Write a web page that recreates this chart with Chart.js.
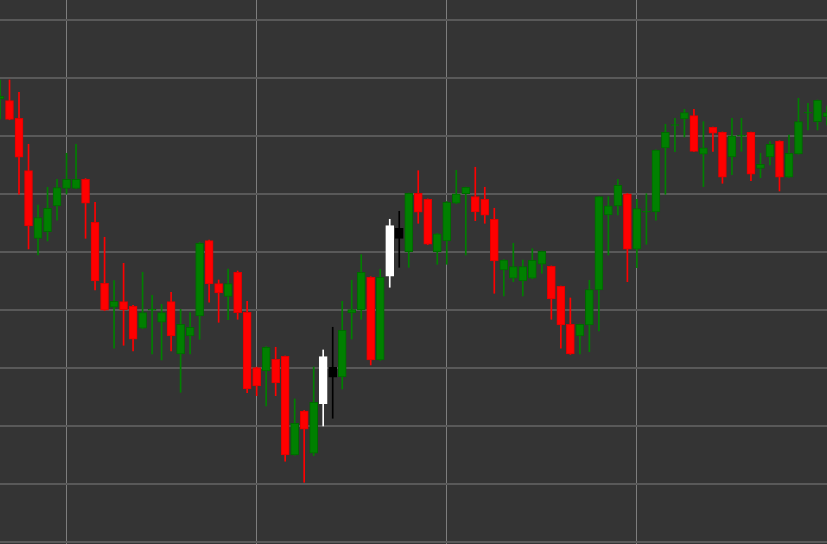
<!DOCTYPE html>
<html>
<head>
<meta charset="utf-8">
<script src="https://cdn.jsdelivr.net/npm/chart.js@4.4.1/dist/chart.umd.min.js"></script>
<style>
html,body{margin:0;padding:0;background:#343434;overflow:hidden}
canvas{display:block}
</style>
</head>
<body>
<canvas id="c" width="827" height="544"></canvas>
<script>
const open = [176.33,176.04,173.00,163.97,152.31,153.45,157.88,160.93,160.93,162.49,
155.07,144.56,140.42,141.38,140.59,136.80,139.90,137.83,141.38,132.37,
135.47,138.92,151.90,144.49,142.31,146.45,139.56,130.00,129.43,131.45,
131.97,114.95,122.54,115.24,123.80,130.07,128.40,139.43,139.95,145.59,
131.33,145.76,154.04,149.95,160.07,159.04,149.95,151.85,158.35,160.00,
159.52,159.04,155.59,146.85,145.42,144.95,145.42,147.83,147.49,144.04,
137.49,135.47,137.37,143.40,156.33,157.88,160.00,150.42,156.80,156.85,
167.88,171.76,172.88,173.45,166.80,171.45,170.59,166.33,169.90,170.59,
164.38,166.33,169.09,162.83,166.85,173.87,172.42,173.28];
const high = [179.61,179.61,177.49,168.52,158.06,161.11,162.49,166.97,168.52,162.60,
158.52,152.49,145.00,148.00,140.75,146.45,142.49,140.93,143.00,140.07,
139.49,151.60,152.02,145.12,147.02,146.68,141.45,130.10,133.65,133.52,
132.02,124.61,122.62,130.12,133.06,136.97,141.45,145.07,149.49,145.68,
146.97,155.59,156.97,160.12,163.97,159.10,153.14,158.66,164.04,161.16,
164.56,161.11,157.49,148.65,151.45,148.57,150.52,150.12,147.54,144.09,
142.02,137.54,145.07,159.52,159.49,162.49,160.03,159.04,160.00,167.57,
171.97,173.00,174.56,174.56,172.42,171.50,170.64,173.00,173.00,170.64,
166.97,168.97,169.12,170.12,176.45,175.59,176.16,175.12];
const low = [172.88,172.75,159.90,150.47,149.43,151.85,155.42,159.95,160.85,152.31,
143.40,139.85,133.35,133.87,132.88,136.75,132.37,131.33,132.88,125.76,
132.37,134.90,141.28,137.83,138.28,138.35,125.69,125.18,123.40,125.18,
113.87,114.90,110.24,114.83,119.95,121.28,126.33,134.95,138.35,130.47,
131.25,143.87,147.31,147.31,154.90,151.24,147.83,147.83,158.30,149.43,
155.35,154.90,142.83,142.37,144.83,142.37,145.35,146.28,138.35,133.35,
132.30,132.37,132.76,136.33,149.43,156.33,144.83,147.24,151.28,155.42,
159.90,167.24,169.78,167.28,161.21,167.31,161.80,163.28,167.31,162.24,
162.76,164.95,160.47,162.80,166.82,170.99,170.99,171.85];
const close = [176.85,172.83,166.28,154.43,155.87,157.49,161.04,162.49,162.49,158.35,
144.95,139.90,141.45,140.00,134.90,139.49,140.10,139.49,135.47,137.49,
136.97,151.45,144.43,142.88,144.49,139.49,126.33,126.85,133.52,127.37,
114.95,120.42,119.38,124.04,131.90,128.35,136.45,140.00,146.45,131.33,
145.59,154.49,152.31,160.07,156.80,151.28,153.06,158.52,160.00,161.11,
156.85,156.30,148.40,148.57,147.42,147.42,148.52,150.07,141.85,137.37,
132.37,137.49,143.45,159.49,157.93,161.45,150.42,157.42,156.97,167.54,
170.59,171.90,173.97,167.31,167.93,170.42,162.83,170.00,170.07,163.35,
165.07,168.52,162.83,166.97,172.42,174.04,176.11,173.97];
const labels = open.map((_, i) => String(i + 1));
const marked = [34, 35, 41, 42];
const xGridAt = [7, 27, 47, 67];

function isUp(i) { return close[i] >= open[i]; }
function fillColor(i) {
  if (marked.includes(i)) return isUp(i) ? '#ffffff' : '#000000';
  return isUp(i) ? '#008000' : '#ff0000';
}
function edgeColor(i) {
  if (marked.includes(i)) return isUp(i) ? '#ffffff' : '#000000';
  return isUp(i) ? '#006800' : '#e00000';
}

new Chart(document.getElementById('c'), {
  type: 'bar',
  data: {
    labels: labels,
    datasets: [
      {
        label: 'body',
        data: open.map((o, i) => [o, close[i]]),
        backgroundColor: ctx => fillColor(ctx.dataIndex),
        borderColor: ctx => edgeColor(ctx.dataIndex),
        borderWidth: 1,
        borderSkipped: false,
        barThickness: 8,
        grouped: false,
        order: 0
      },
      {
        label: 'wick',
        data: low.map((l, i) => [l, high[i]]),
        backgroundColor: ctx => fillColor(ctx.dataIndex),
        borderWidth: 0,
        barThickness: 1,
        grouped: false,
        order: 1
      }
    ]
  },
  options: {
    responsive: false,
    animation: false,
    devicePixelRatio: 1,
    layout: { padding: 0 },
    plugins: { legend: { display: false }, tooltip: { enabled: false } },
    scales: {
      x: {
        type: 'category',
        offset: false,
        grid: {
          offset: false,
          drawTicks: false,
          lineWidth: 1,
          color: ctx => xGridAt.includes(ctx.index) ? '#7d7d7d' : 'rgba(0,0,0,0)'
        },
        ticks: { display: false },
        border: { display: false }
      },
      y: {
        min: 99.6,
        max: 193.4,
        grid: { drawTicks: false, color: '#595959', lineWidth: 2 },
        ticks: { display: false, stepSize: 10, includeBounds: false },
        border: { display: false }
      }
    }
  }
});
</script>
</body>
</html>
